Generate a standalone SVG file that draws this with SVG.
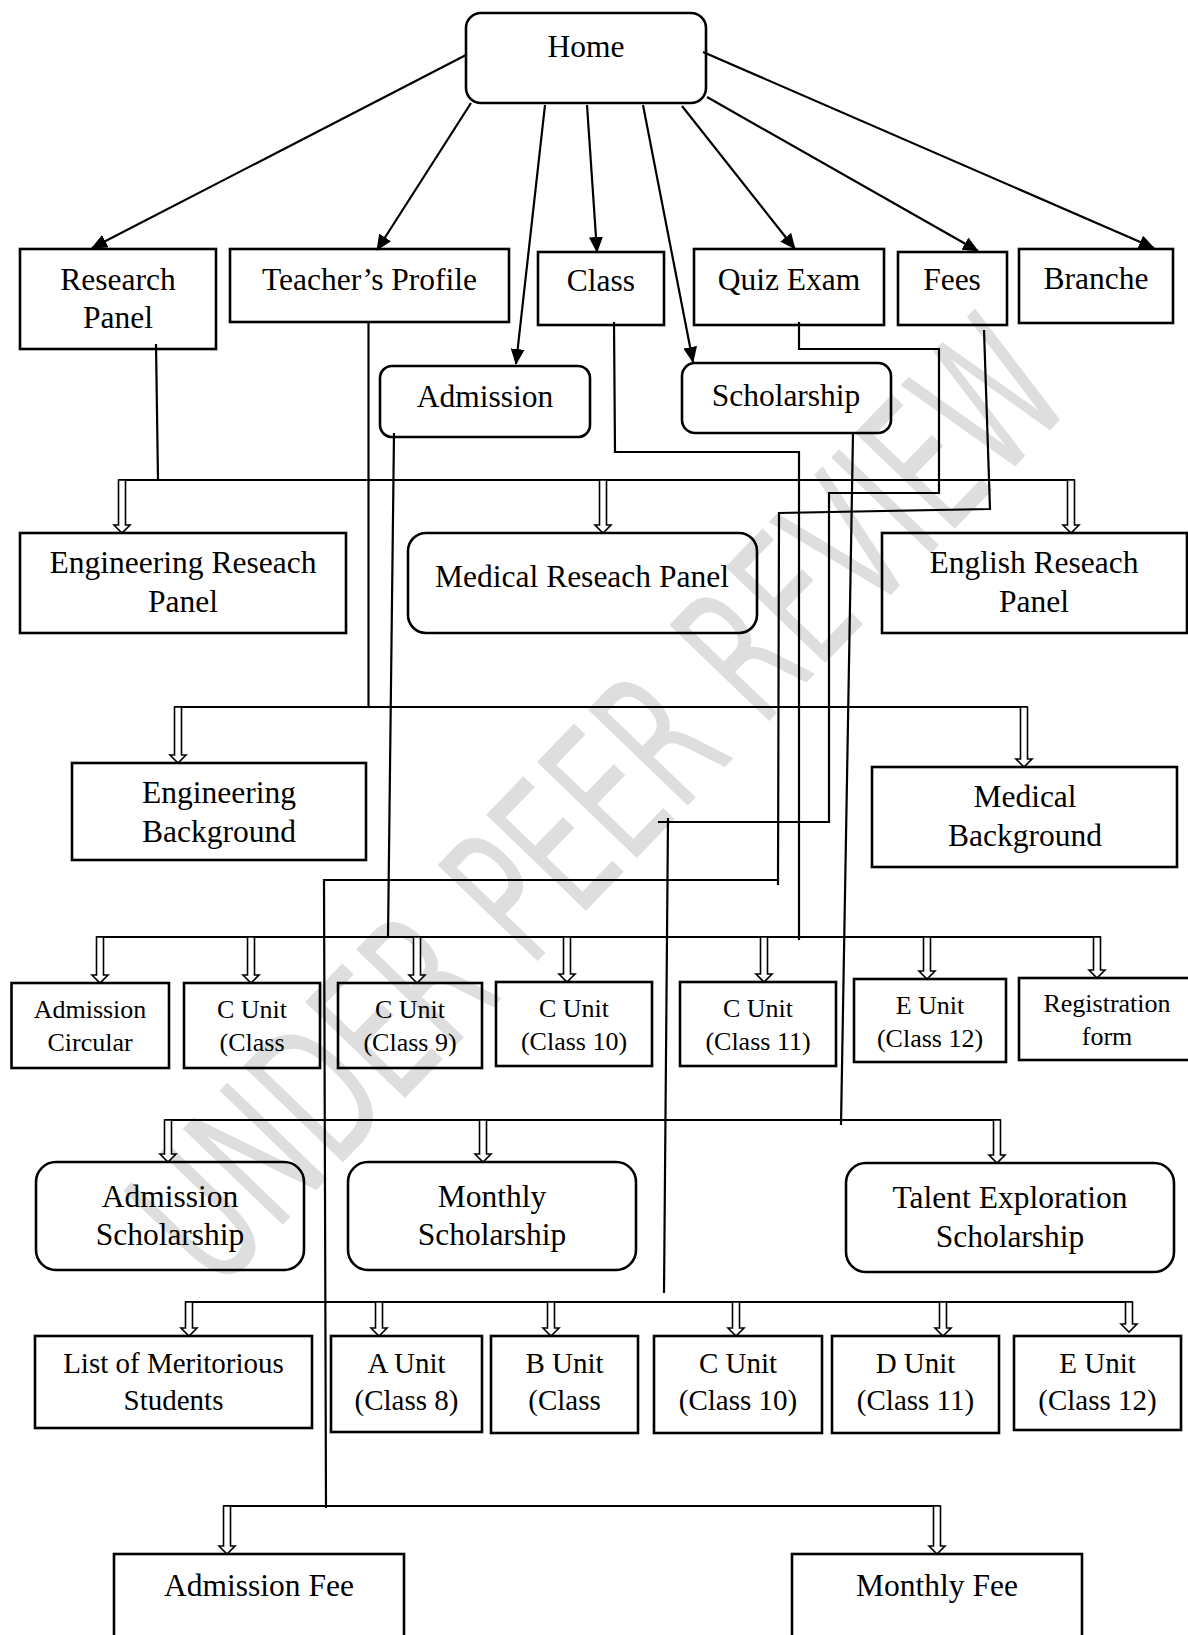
<svg xmlns="http://www.w3.org/2000/svg" width="1188" height="1635" viewBox="0 0 1188 1635">
<style>
.box{fill:none;stroke:#000;stroke-width:2.6}
.t{font-family:"Liberation Serif","Times New Roman",serif;font-size:31.5px;fill:#000;text-anchor:middle}
.s{font-size:26px}
.m{font-size:29px}
.ln{fill:none;stroke:#000;stroke-width:2.2}
.ar{fill:none;stroke:#000;stroke-width:2.2;marker-end:url(#ah)}
.dbl{fill:#fff;stroke:#000;stroke-width:1.6}
.wm{font-family:"DejaVu Sans",sans-serif;font-size:190px;fill:#dedede;text-anchor:middle}
</style>
<defs>
<marker id="ah" markerUnits="userSpaceOnUse" markerWidth="16" markerHeight="14" viewBox="0 0 16 14" refX="15" refY="7" orient="auto">
<path d="M0,0 L16,7 L0,14 Z" fill="#000"/>
</marker>
</defs>
<rect x="0" y="0" width="1188" height="1635" fill="#fff"/>
<g id="watermark">
<text class="wm" transform="translate(597,800) rotate(-46)" x="0" y="69" textLength="1240" lengthAdjust="spacingAndGlyphs">UNDER PEER REVIEW</text>
</g>
<g id="connectors">
<line class="ar" x1="466" y1="55" x2="92" y2="248"/>
<line class="ar" x1="471" y1="103" x2="377" y2="250"/>
<line class="ar" x1="545" y1="105" x2="516" y2="364"/>
<line class="ar" x1="587" y1="105" x2="597" y2="252"/>
<line class="ar" x1="643" y1="105" x2="693" y2="362"/>
<line class="ar" x1="682" y1="106" x2="795" y2="249"/>
<line class="ar" x1="707" y1="97" x2="978" y2="251"/>
<line class="ar" x1="703" y1="52" x2="1154" y2="248"/>
<path class="ln" d="M156,344 L158,480"/>
<path class="ln" d="M368.5,322 V707"/>
<path class="ln" d="M394,433 L388,937"/>
<path class="ln" d="M614,322 L615,452 H799 V940"/>
<path class="ln" d="M799,322 V349 H939 V493 H829 V822 H658"/>
<path class="ln" d="M668,818 L664,1293"/>
<path class="ln" d="M984,330 L990,509 L779,513 L778,885 M778,880 H324 L326,1508"/>
<path class="ln" d="M853,433 L841,1125"/>
<path class="ln" d="M118.5,480 H1074.5"/>
<path class="ln" d="M174.5,707 H1027.5"/>
<path class="ln" d="M96.5,937 H1100.5"/>
<path class="ln" d="M164.5,1120 H1000.5"/>
<path class="ln" d="M185.5,1302 H1132.5"/>
<path class="ln" d="M223.5,1506 H940.5"/>
<path class="dbl" d="M118.5,480 V525 H114 L122,533 L130,525 H125.5 V480 Z"/>
<path class="dbl" d="M599.5,480 V525 H595 L603,533 L611,525 H606.5 V480 Z"/>
<path class="dbl" d="M1067.5,480 V525 H1063 L1071,533 L1079,525 H1074.5 V480 Z"/>
<path class="dbl" d="M174.5,707 V755 H170 L178,763 L186,755 H181.5 V707 Z"/>
<path class="dbl" d="M1020.5,707 V759 H1016 L1024,767 L1032,759 H1027.5 V707 Z"/>
<path class="dbl" d="M96.5,937 V975 H92 L100,983 L108,975 H103.5 V937 Z"/>
<path class="dbl" d="M247.5,937 V975 H243 L251,983 L259,975 H254.5 V937 Z"/>
<path class="dbl" d="M413.5,937 V975 H409 L417,983 L425,975 H420.5 V937 Z"/>
<path class="dbl" d="M563.5,937 V974 H559 L567,982 L575,974 H570.5 V937 Z"/>
<path class="dbl" d="M760.5,937 V974 H756 L764,982 L772,974 H767.5 V937 Z"/>
<path class="dbl" d="M923.5,937 V971 H919 L927,979 L935,971 H930.5 V937 Z"/>
<path class="dbl" d="M1093.5,937 V970 H1089 L1097,978 L1105,970 H1100.5 V937 Z"/>
<path class="dbl" d="M164.5,1120 V1154 H160 L168,1162 L176,1154 H171.5 V1120 Z"/>
<path class="dbl" d="M479.5,1120 V1154 H475 L483,1162 L491,1154 H486.5 V1120 Z"/>
<path class="dbl" d="M993.5,1120 V1155 H989 L997,1163 L1005,1155 H1000.5 V1120 Z"/>
<path class="dbl" d="M185.5,1302 V1328 H181 L189,1336 L197,1328 H192.5 V1302 Z"/>
<path class="dbl" d="M375.5,1302 V1328 H371 L379,1336 L387,1328 H382.5 V1302 Z"/>
<path class="dbl" d="M547.5,1302 V1328 H543 L551,1336 L559,1328 H554.5 V1302 Z"/>
<path class="dbl" d="M732.5,1302 V1328 H728 L736,1336 L744,1328 H739.5 V1302 Z"/>
<path class="dbl" d="M939.5,1302 V1328 H935 L943,1336 L951,1328 H946.5 V1302 Z"/>
<path class="dbl" d="M1125.5,1302 V1324 H1121 L1129,1332 L1137,1324 H1132.5 V1302 Z"/>
<path class="dbl" d="M223.5,1506 V1546 H219 L227,1554 L235,1546 H230.5 V1506 Z"/>
<path class="dbl" d="M933.5,1506 V1546 H929 L937,1554 L945,1546 H940.5 V1506 Z"/>
</g>
<g id="home"><rect class="box" x="466" y="13" width="240" height="90" rx="15"/><text class="t" x="586" y="57">Home</text></g>
<g id="research-panel"><rect class="box" x="20" y="249" width="196" height="100"/><text class="t" x="118" y="290">Research</text><text class="t" x="118" y="328">Panel</text></g>
<g id="teachers-profile"><rect class="box" x="230" y="249" width="279" height="73"/><text class="t" x="369.5" y="290">Teacher’s Profile</text></g>
<g id="class"><rect class="box" x="538" y="252" width="126" height="73"/><text class="t" x="601" y="291">Class</text></g>
<g id="quiz-exam"><rect class="box" x="694" y="249" width="190" height="76"/><text class="t" x="789" y="290">Quiz Exam</text></g>
<g id="fees"><rect class="box" x="898" y="252" width="109" height="73"/><text class="t" x="952" y="290">Fees</text></g>
<g id="branche"><rect class="box" x="1019" y="249" width="154" height="74"/><text class="t" x="1096" y="289">Branche</text></g>
<g id="admission"><rect class="box" x="380" y="366" width="210" height="71" rx="12"/><text class="t" x="485" y="407">Admission</text></g>
<g id="scholarship"><rect class="box" x="682" y="363" width="209" height="70" rx="13"/><text class="t" x="786" y="406">Scholarship</text></g>
<g id="engineering-research-panel"><rect class="box" x="20" y="533" width="326" height="100"/><text class="t" x="183" y="573">Engineering Reseach</text><text class="t" x="183" y="612">Panel</text></g>
<g id="medical-research-panel"><rect class="box" x="408" y="533" width="349" height="100" rx="18"/><text class="t" x="582" y="587">Medical Reseach Panel</text></g>
<g id="english-research-panel"><rect class="box" x="882" y="533" width="305" height="100"/><text class="t" x="1034" y="573">English Reseach</text><text class="t" x="1034" y="612">Panel</text></g>
<g id="engineering-background"><rect class="box" x="72" y="763" width="294" height="97"/><text class="t" x="219" y="803">Engineering</text><text class="t" x="219" y="842">Background</text></g>
<g id="medical-background"><rect class="box" x="872" y="767" width="305" height="100"/><text class="t" x="1025" y="807">Medical</text><text class="t" x="1025" y="846">Background</text></g>
<g id="admission-circular"><rect class="box" x="11.5" y="983" width="157.5" height="85"/><text class="t s" x="90" y="1018">Admission</text><text class="t s" x="90" y="1051">Circular</text></g>
<g id="c-unit-class"><rect class="box" x="184" y="983" width="136" height="85"/><text class="t s" x="252" y="1018">C Unit</text><text class="t s" x="252" y="1051">(Class</text></g>
<g id="c-unit-class-9"><rect class="box" x="338" y="983" width="144" height="85"/><text class="t s" x="410" y="1018">C Unit</text><text class="t s" x="410" y="1051">(Class 9)</text></g>
<g id="c-unit-class-10a"><rect class="box" x="496" y="982" width="156" height="84"/><text class="t s" x="574" y="1017">C Unit</text><text class="t s" x="574" y="1050">(Class 10)</text></g>
<g id="c-unit-class-11a"><rect class="box" x="680" y="982" width="156" height="84"/><text class="t s" x="758" y="1017">C Unit</text><text class="t s" x="758" y="1050">(Class 11)</text></g>
<g id="e-unit-class-12a"><rect class="box" x="854" y="979" width="152" height="83"/><text class="t s" x="930" y="1014">E Unit</text><text class="t s" x="930" y="1047">(Class 12)</text></g>
<g id="registration-form"><rect class="box" x="1019" y="978" width="175" height="82"/><text class="t s" x="1107" y="1012">Registration</text><text class="t s" x="1107" y="1045">form</text></g>
<g id="admission-scholarship"><rect class="box" x="36" y="1162" width="268" height="108" rx="20"/><text class="t" x="170" y="1207">Admission</text><text class="t" x="170" y="1245">Scholarship</text></g>
<g id="monthly-scholarship"><rect class="box" x="348" y="1162" width="288" height="108" rx="20"/><text class="t" x="492" y="1207">Monthly</text><text class="t" x="492" y="1245">Scholarship</text></g>
<g id="talent-scholarship"><rect class="box" x="846" y="1163" width="328" height="109" rx="20"/><text class="t" x="1010" y="1208">Talent Exploration</text><text class="t" x="1010" y="1247">Scholarship</text></g>
<g id="meritorious-list"><rect class="box" x="35" y="1336" width="277" height="92"/><text class="t m" x="173.5" y="1373">List of Meritorious</text><text class="t m" x="173.5" y="1410">Students</text></g>
<g id="a-unit"><rect class="box" x="331" y="1336" width="151" height="96"/><text class="t m" x="406.5" y="1373">A Unit</text><text class="t m" x="406.5" y="1410">(Class 8)</text></g>
<g id="b-unit"><rect class="box" x="491" y="1336" width="147" height="97"/><text class="t m" x="564.5" y="1373">B Unit</text><text class="t m" x="564.5" y="1410">(Class</text></g>
<g id="c-unit-b"><rect class="box" x="654" y="1336" width="168" height="97"/><text class="t m" x="738" y="1373">C Unit</text><text class="t m" x="738" y="1410">(Class 10)</text></g>
<g id="d-unit"><rect class="box" x="832" y="1336" width="167" height="97"/><text class="t m" x="915.5" y="1373">D Unit</text><text class="t m" x="915.5" y="1410">(Class 11)</text></g>
<g id="e-unit-b"><rect class="box" x="1014" y="1336" width="167" height="94"/><text class="t m" x="1097.5" y="1373">E Unit</text><text class="t m" x="1097.5" y="1410">(Class 12)</text></g>
<g id="admission-fee"><rect class="box" x="114" y="1554" width="290" height="100"/><text class="t" x="259" y="1596">Admission Fee</text></g>
<g id="monthly-fee"><rect class="box" x="792" y="1554" width="290" height="100"/><text class="t" x="937" y="1596">Monthly Fee</text></g>
</svg>
